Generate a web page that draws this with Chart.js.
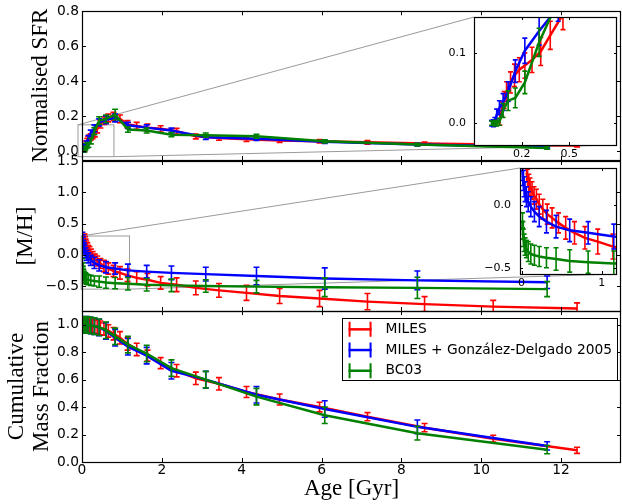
<!DOCTYPE html>
<html>
<head>
<meta charset="utf-8">
<title>SFH recovery</title>
<script src="https://cdn.jsdelivr.net/npm/chart.js@4.4.1/dist/chart.umd.min.js"></script>
<style>
  body { margin: 0; background: #fff; }
  #fig { position: relative; width: 622px; height: 504px; overflow: hidden; }
  #fig canvas { position: absolute; left: 0; top: 0; }
</style>
</head>
<body>
<div id="fig">
  <canvas id="sfr" width="622" height="504"></canvas>
  <canvas id="mh" width="622" height="504"></canvas>
  <canvas id="cum" width="622" height="504"></canvas>
  <canvas id="sfrZoom" width="622" height="504"></canvas>
  <canvas id="mhZoom" width="622" height="504"></canvas>
</div>
<script>
// --- data -----------------------------------------------------------------
const seriesNames = ['MILES', 'MILES + González-Delgado 2005', 'BC03'];
const seriesColors = ['#ff0000', '#0000ff', '#008000'];

// ages (Gyr) of the bins
const agesMiles = [0.063, 0.075, 0.09, 0.105, 0.13, 0.155, 0.185, 0.22, 0.265, 0.32, 0.38, 0.46, 0.55, 0.66, 0.79,
                   0.95, 1.14, 1.37, 1.64, 1.97, 2.37, 2.85, 3.43, 4.12, 4.95, 5.95, 7.15, 8.58, 10.3, 12.4];
const agesGD = [0.011, 0.016, 0.022, 0.031, 0.043, 0.06, 0.083, 0.115, 0.16, 0.22, 0.31,
                0.43, 0.6, 0.83, 1.15, 1.62, 2.24, 3.1, 4.37, 6.08, 8.4, 11.65];
const agesBC03 = [0.011, 0.016, 0.022, 0.031, 0.043, 0.06, 0.083, 0.115, 0.16, 0.22, 0.31,
                  0.43, 0.6, 0.83, 1.15, 1.62, 2.24, 3.1, 4.37, 6.08, 8.4, 11.65];

// normalised SFR
const sfrMiles = [0.005, 0.02, 0.033, 0.045, 0.058, 0.068, 0.076, 0.082, 0.09, 0.102, 0.125, 0.155, 0.175, 0.19, 0.2,
                  0.185, 0.155, 0.145, 0.135, 0.128, 0.115, 0.085, 0.076, 0.068, 0.062, 0.057, 0.051, 0.044, 0.038, 0.033];
const sfrMilesErr = [0.008, 0.01, 0.012, 0.014, 0.015, 0.016, 0.017, 0.018, 0.018, 0.02, 0.02, 0.022, 0.022, 0.022, 0.022,
                     0.022, 0.02, 0.02, 0.02, 0.018, 0.016, 0.014, 0.013, 0.012, 0.011, 0.01, 0.01, 0.009, 0.008, 0.008];
const sfrGD = [0, 0, 0, 0.002, 0.012, 0.022, 0.03, 0.045, 0.074, 0.103, 0.131,
               0.165, 0.18, 0.19, 0.148, 0.135, 0.118, 0.08, 0.072, 0.054, 0.038, 0.025];
const sfrGDErr = [0.004, 0.004, 0.005, 0.006, 0.008, 0.01, 0.012, 0.014, 0.016, 0.018, 0.02,
                  0.02, 0.022, 0.022, 0.018, 0.016, 0.014, 0.012, 0.01, 0.009, 0.008, 0.007];
const sfrBC03 = [0, 0, 0, 0, 0, 0.002, 0.018, 0.032, 0.036, 0.058, 0.115,
                 0.175, 0.185, 0.21, 0.124, 0.118, 0.095, 0.092, 0.086, 0.057, 0.038, 0.019];
const sfrBC03Err = [0.003, 0.003, 0.003, 0.004, 0.004, 0.005, 0.01, 0.014, 0.014, 0.016, 0.02,
                    0.022, 0.022, 0.03, 0.015, 0.014, 0.012, 0.012, 0.011, 0.009, 0.008, 0.007];

// [M/H]
const mhMiles = [0.26, 0.22, 0.18, 0.15, 0.12, 0.08, 0.05, 0.01, -0.03, -0.07, -0.1, -0.14, -0.18, -0.22, -0.26,
                 -0.29, -0.33, -0.37, -0.4, -0.45, -0.48, -0.53, -0.57, -0.61, -0.66, -0.7, -0.75, -0.79, -0.83, -0.86];
const mhMilesErr = [0.07, 0.07, 0.07, 0.07, 0.07, 0.07, 0.08, 0.08, 0.08, 0.08, 0.08, 0.08, 0.09, 0.09, 0.09,
                    0.1, 0.1, 0.1, 0.1, 0.1, 0.11, 0.11, 0.11, 0.12, 0.12, 0.13, 0.13, 0.12, 0.1, 0.09];
const mhGD = [0.28, 0.24, 0.2, 0.15, 0.11, 0.07, 0.03, -0.01, -0.05, -0.09, -0.13,
              -0.17, -0.2, -0.22, -0.25, -0.27, -0.29, -0.31, -0.34, -0.38, -0.41, -0.44];
const mhGDErr = [0.08, 0.08, 0.08, 0.08, 0.08, 0.08, 0.08, 0.08, 0.08, 0.08, 0.09,
                 0.09, 0.09, 0.09, 0.1, 0.1, 0.11, 0.11, 0.14, 0.17, 0.15, 0.1];
const mhBC03 = [-0.12, -0.2, -0.26, -0.3, -0.33, -0.35, -0.37, -0.39, -0.4, -0.41, -0.42,
                -0.43, -0.445, -0.455, -0.465, -0.48, -0.49, -0.5, -0.51, -0.52, -0.53, -0.55];
const mhBC03Err = [0.06, 0.07, 0.07, 0.07, 0.07, 0.07, 0.08, 0.08, 0.08, 0.08, 0.08,
                   0.09, 0.09, 0.09, 0.1, 0.1, 0.1, 0.1, 0.1, 0.15, 0.17, 0.12];

// cumulative mass fraction
const cumMiles = [1.0, 1.0, 1.0, 1.0, 1.0, 0.998, 0.996, 0.994, 0.99, 0.987, 0.983, 0.977, 0.968, 0.955, 0.935,
                  0.905, 0.86, 0.82, 0.775, 0.72, 0.665, 0.61, 0.57, 0.51, 0.455, 0.4, 0.33, 0.25, 0.17, 0.085];
const cumMilesErr = [0.05, 0.05, 0.05, 0.05, 0.05, 0.05, 0.05, 0.05, 0.05, 0.05, 0.05, 0.05, 0.045, 0.045, 0.045,
                     0.045, 0.045, 0.045, 0.04, 0.04, 0.045, 0.045, 0.045, 0.04, 0.04, 0.035, 0.03, 0.03, 0.025, 0.022];
const cumGD = [1, 1, 1, 1, 1, 1, 1, 1, 0.998, 0.995, 0.99,
               0.98, 0.955, 0.905, 0.84, 0.775, 0.665, 0.6, 0.49, 0.386, 0.256, 0.117];
const cumGDErr = [0.06, 0.06, 0.06, 0.06, 0.06, 0.06, 0.06, 0.06, 0.06, 0.06, 0.06,
                  0.06, 0.06, 0.06, 0.06, 0.06, 0.06, 0.06, 0.06, 0.06, 0.05, 0.03];
const cumBC03 = [1, 1, 1, 1, 1, 1, 1, 1, 0.998, 0.995, 0.99,
                 0.982, 0.96, 0.915, 0.855, 0.79, 0.684, 0.6, 0.476, 0.34, 0.21, 0.09];
const cumBC03Err = [0.06, 0.06, 0.06, 0.06, 0.06, 0.06, 0.06, 0.06, 0.06, 0.06, 0.06,
                    0.06, 0.06, 0.06, 0.06, 0.06, 0.06, 0.06, 0.06, 0.06, 0.05, 0.03];

// tick values
const ageTicks = [0, 2, 4, 6, 8, 10, 12];
const sfrTicks = [0, 0.2, 0.4, 0.6, 0.8];
const mhTicks = [-0.5, 0, 0.5, 1.0, 1.5];
const cumTicks = [0, 0.2, 0.4, 0.6, 0.8, 1.0];
const sfrZoomAgeTicks = [0.2, 0.5];
const sfrZoomTicks = [0, 0.1];
const mhZoomAgeTicks = [0, 1];
const mhZoomTicks = [-0.5, 0];

// --- look ------------------------------------------------------------------
const SANS = 'DejaVu Sans';
const SERIF = 'Liberation Serif';
const TICK_SIZE = 13.8;
const INSET_TICK_SIZE = 11;

const fmt = (d) => (v) => v.toFixed(d).replace('-', '\u2212');

// error bars drawn right after each line, so later series sit on top
const errorBars = {
  id: 'errorBars',
  afterDatasetDraw(chart, args, o) {
    const ds = chart.data.datasets[args.index];
    if (!ds.errors) return;
    const {ctx, chartArea: a} = chart;
    const ys = args.meta.yScale;
    ctx.save();
    ctx.beginPath();
    ctx.rect(a.left, a.top, a.width, a.height);
    ctx.clip();
    ctx.strokeStyle = ds.borderColor;
    ctx.lineWidth = o.width;
    ctx.beginPath();
    args.meta.data.forEach((pt, i) => {
      const v = ds.data[i].y, e = ds.errors[i];
      const lo = ys.getPixelForValue(v - e), hi = ys.getPixelForValue(v + e);
      ctx.moveTo(pt.x, lo); ctx.lineTo(pt.x, hi);
      ctx.moveTo(pt.x - o.cap, lo); ctx.lineTo(pt.x + o.cap, lo);
      ctx.moveTo(pt.x - o.cap, hi); ctx.lineTo(pt.x + o.cap, hi);
    });
    ctx.stroke();
    ctx.restore();
  }
};

// axes box with inward ticks on all four sides
const frame = {
  id: 'frame',
  beforeDraw(chart, args, o) {
    if (!o.fill) return;
    const {ctx, chartArea: a} = chart;
    ctx.save();
    ctx.fillStyle = o.fill;
    ctx.fillRect(a.left, a.top, a.width, a.height);
    ctx.restore();
  },
  afterDraw(chart, args, o) {
    const {ctx, chartArea: a, scales: {x, y}} = chart;
    const L = o.tick;
    ctx.save();
    ctx.strokeStyle = '#000';
    ctx.lineWidth = 1;
    ctx.beginPath();
    x.ticks.forEach(t => {
      const p = Math.round(x.getPixelForValue(t.value)) + 0.5;
      ctx.moveTo(p, a.bottom); ctx.lineTo(p, a.bottom - L);
      ctx.moveTo(p, a.top); ctx.lineTo(p, a.top + L);
    });
    y.ticks.forEach(t => {
      const p = Math.round(y.getPixelForValue(t.value)) + 0.5;
      ctx.moveTo(a.left, p); ctx.lineTo(a.left + L, p);
      ctx.moveTo(a.right, p); ctx.lineTo(a.right - L, p);
    });
    ctx.stroke();
    ctx.lineWidth = 1.2;
    ctx.strokeRect(Math.round(a.left) + 0.5, Math.round(a.top) + 0.5,
                   Math.round(a.width) - 1, Math.round(a.height));
    ctx.restore();
  }
};

// zoom rectangle on the main panel + the two connector lines to the inset
const insets = {};
const zoomBox = {
  id: 'zoomBox',
  beforeDatasetsDraw(chart) {
    const inset = insets[chart.canvas.id];
    if (!inset) return;
    const {ctx, scales: {x, y}} = chart;
    const ix = inset.scales.x, iy = inset.scales.y, ia = inset.chartArea;
    const l = x.getPixelForValue(ix.min), r = x.getPixelForValue(ix.max);
    const t = y.getPixelForValue(iy.max), b = y.getPixelForValue(iy.min);
    ctx.save();
    ctx.strokeStyle = '#9a9a9a';
    ctx.lineWidth = 1;
    ctx.strokeRect(l, t, r - l, b - t);
    ctx.beginPath();
    ctx.moveTo(l, t); ctx.lineTo(ia.left, ia.top);
    ctx.moveTo(r, b); ctx.lineTo(ia.right, ia.bottom);
    ctx.stroke();
    ctx.restore();
  }
};

// matplotlib-like boxed legend with errorbar handles
const boxLegend = {
  id: 'boxLegend',
  afterDraw(chart, args, o) {
    if (!o.show) return;
    const {ctx, chartArea: a} = chart;
    const sets = chart.data.datasets;
    ctx.save();
    ctx.font = TICK_SIZE + 'px "' + SANS + '"';
    const textW = Math.max(...sets.map(d => ctx.measureText(d.label).width));
    const w = 7 + 23 + 14 + textW + 5;
    const right = a.right - 4, left = right - w, top = a.top + 7;
    const rowH = 20.7, h = rowH * sets.length;
    ctx.fillStyle = '#fff';
    ctx.fillRect(left, top, w, h);
    ctx.strokeStyle = '#000';
    ctx.lineWidth = 1;
    ctx.strokeRect(Math.round(left) + 0.5, Math.round(top) + 0.5, Math.round(w), Math.round(h));
    sets.forEach((d, i) => {
      const cy = top + rowH / 2 + 1 + i * rowH;
      const x0 = left + 7, x1 = x0 + 23;
      ctx.strokeStyle = d.borderColor;
      ctx.lineWidth = 2.5;
      ctx.beginPath(); ctx.moveTo(x0, cy); ctx.lineTo(x1, cy); ctx.stroke();
      ctx.lineWidth = 2;
      ctx.beginPath();
      ctx.moveTo(x0 + 1, cy - 7.5); ctx.lineTo(x0 + 1, cy + 7.5);
      ctx.moveTo(x1 - 1, cy - 7.5); ctx.lineTo(x1 - 1, cy + 7.5);
      ctx.stroke();
      ctx.fillStyle = '#000';
      ctx.textAlign = 'left';
      ctx.textBaseline = 'middle';
      ctx.fillText(d.label, x1 + 14, cy);
    });
    ctx.restore();
  }
};

function series(ages, vals, errs, i) {
  return {
    label: seriesNames[i],
    data: ages.map((a, k) => ({x: a, y: vals[k]})),
    errors: errs,
    borderColor: seriesColors[i],
    backgroundColor: seriesColors[i],
    borderWidth: 2.5,
    pointRadius: 0,
    tension: 0,
    fill: false,
    order: 3 - i
  };
}

function axis(c) {
  return {
    type: 'linear',
    min: c.min,
    max: c.max,
    afterBuildTicks: s => { s.ticks = c.ticks.map(v => ({value: v})); },
    afterFit: s => { if (c.width !== undefined) s.width = c.width; if (c.height !== undefined) s.height = c.height; },
    grid: {display: false, drawTicks: false},
    border: {display: false},
    ticks: {
      display: c.labels !== false,
      font: {family: SANS, size: c.size || TICK_SIZE},
      color: '#000',
      padding: c.pad || 0,
      maxRotation: 0,
      autoSkip: false,
      callback: fmt(c.dec)
    },
    title: c.title ? {
      display: true,
      text: c.title,
      color: '#000',
      font: {family: SERIF, size: 23, lineHeight: 1.1},
      padding: c.titlePad
    } : {display: false}
  };
}

function makeChart(id, datasets, pad, x, y, extra) {
  return new Chart(document.getElementById(id), {
    type: 'line',
    data: {datasets},
    options: {
      responsive: false,
      animation: false,
      events: [],
      layout: {padding: pad},
      plugins: Object.assign({
        legend: {display: false},
        tooltip: {enabled: false},
        errorBars: {width: 1.6, cap: 3},
        frame: {tick: 4}
      }, extra || {}),
      scales: {x: axis(x), y: axis(y)}
    },
    plugins: [frame, errorBars, zoomBox, boxLegend]
  });
}

const sfrSets = () => [
  series(agesMiles, sfrMiles, sfrMilesErr, 0),
  series(agesGD, sfrGD, sfrGDErr, 1),
  series(agesBC03, sfrBC03, sfrBC03Err, 2)
];
const mhSets = () => [
  series(agesMiles, mhMiles, mhMilesErr, 0),
  series(agesGD, mhGD, mhGDErr, 1),
  series(agesBC03, mhBC03, mhBC03Err, 2)
];
const cumSets = () => [
  series(agesMiles, cumMiles, cumMilesErr, 0),
  series(agesGD, cumGD, cumGDErr, 1),
  series(agesBC03, cumBC03, cumBC03Err, 2)
];

// insets first, so the main panels can find their corners
const insetPlugins = {errorBars: {width: 1.6, cap: 2.5}, frame: {tick: 3, fill: '#fff'}};
insets.sfr = makeChart('sfrZoom', sfrSets(),
  {left: 0, top: 17, right: 5, bottom: 339},
  {min: -0.1, max: 0.8, ticks: sfrZoomAgeTicks, dec: 1, height: 20, size: INSET_TICK_SIZE, pad: 2.5},
  {min: -0.031, max: 0.151, ticks: sfrZoomTicks, dec: 1, width: 474, size: INSET_TICK_SIZE, pad: 8},
  insetPlugins);
insets.mh = makeChart('mhZoom', mhSets(),
  {left: 0, top: 168, right: 5, bottom: 210},
  {min: -0.02, max: 1.19, ticks: mhZoomAgeTicks, dec: 0, height: 20, size: INSET_TICK_SIZE, pad: 3},
  {min: -0.55, max: 0.3, ticks: mhZoomTicks, dec: 1, width: 520, size: INSET_TICK_SIZE, pad: 9},
  insetPlugins);

makeChart('sfr', sfrSets(),
  {left: 0, top: 11, right: 1, bottom: 344},
  {min: 0, max: 13.5, ticks: ageTicks, dec: 0, height: 0, labels: false},
  {min: -0.05, max: 0.8, ticks: sfrTicks, dec: 1, width: 82, pad: 3,
   title: 'Normalised SFR', titlePad: {top: 28}});
makeChart('mh', mhSets(),
  {left: 0, top: 161, right: 1, bottom: 193},
  {min: 0, max: 13.5, ticks: ageTicks, dec: 0, height: 0, labels: false},
  {min: -0.9, max: 1.5, ticks: mhTicks, dec: 1, width: 82, pad: 3,
   title: '[M/H]', titlePad: {top: 13}});
makeChart('cum', cumSets(),
  {left: 0, top: 311, right: 1, bottom: 0},
  {min: 0, max: 13.5, ticks: ageTicks, dec: 0, height: 42, pad: 0,
   title: 'Age [Gyr]', titlePad: {top: 0, bottom: 2.5}},
  {min: 0, max: 1.1, ticks: cumTicks, dec: 1, width: 82, pad: 3,
   title: ['Cumulative', 'Mass Fraction'], titlePad: {top: 4.5}},
  {boxLegend: {show: true}});
</script>
</body>
</html>
